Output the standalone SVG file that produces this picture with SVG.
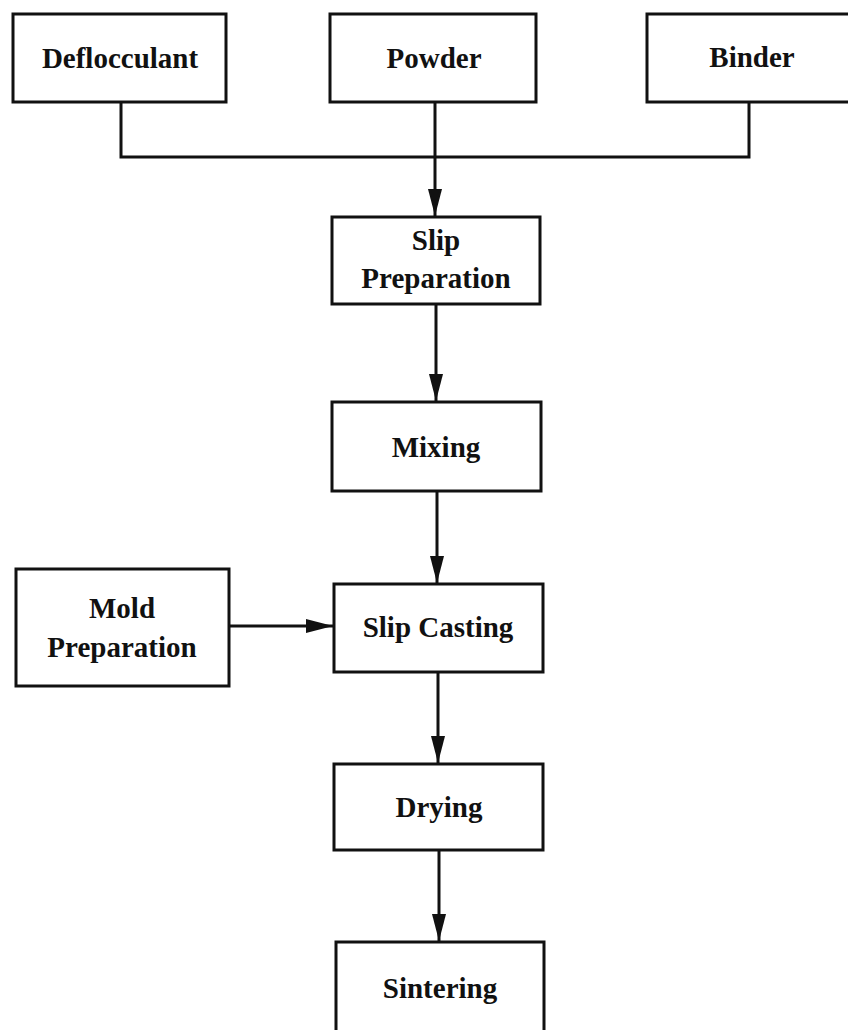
<svg xmlns="http://www.w3.org/2000/svg" width="848" height="1030" viewBox="0 0 848 1030">
<style>
.box{fill:#fff;stroke:#111;stroke-width:3}
.lbl{font-family:"Liberation Serif","Times New Roman",serif;font-weight:bold;font-size:29px;fill:#111;text-anchor:middle}
.con{fill:none;stroke:#111;stroke-width:3}
</style>
<defs>
<marker id="arr" markerUnits="userSpaceOnUse" markerWidth="28" markerHeight="16" refX="27" refY="7" orient="auto">
<path d="M0,0 L27,7 L0,14 z" fill="#111"/>
</marker>
</defs>
<rect width="848" height="1030" fill="#fff"/>
<g id="connectors">
<polyline class="con" points="121,102 121,157 749,157 749,102"/>
<line class="con" x1="435" y1="102" x2="435" y2="216" marker-end="url(#arr)"/>
<line class="con" x1="436" y1="304" x2="436" y2="401" marker-end="url(#arr)"/>
<line class="con" x1="437" y1="491" x2="437" y2="583" marker-end="url(#arr)"/>
<line class="con" x1="229" y1="626" x2="333" y2="626" marker-end="url(#arr)"/>
<line class="con" x1="438" y1="672" x2="438" y2="763" marker-end="url(#arr)"/>
<line class="con" x1="439" y1="850" x2="439" y2="941" marker-end="url(#arr)"/>
</g>
<g id="deflocculant">
<rect class="box" x="13" y="14" width="213" height="88"/>
<text class="lbl" x="120" y="68">Deflocculant</text>
</g>
<g id="powder">
<rect class="box" x="330" y="14" width="206" height="88"/>
<text class="lbl" x="434" y="68">Powder</text>
</g>
<g id="binder">
<rect class="box" x="647" y="14" width="210" height="88"/>
<text class="lbl" x="752" y="67">Binder</text>
</g>
<g id="slip-preparation">
<rect class="box" x="332" y="217" width="208" height="87"/>
<text class="lbl" x="436" y="250">Slip</text>
<text class="lbl" x="436" y="288">Preparation</text>
</g>
<g id="mixing">
<rect class="box" x="332" y="402" width="209" height="89"/>
<text class="lbl" x="436" y="457">Mixing</text>
</g>
<g id="mold-preparation">
<rect class="box" x="16" y="569" width="213" height="117"/>
<text class="lbl" x="122" y="618">Mold</text>
<text class="lbl" x="122" y="657">Preparation</text>
</g>
<g id="slip-casting">
<rect class="box" x="334" y="584" width="209" height="88"/>
<text class="lbl" x="438" y="637">Slip Casting</text>
</g>
<g id="drying">
<rect class="box" x="334" y="764" width="209" height="86"/>
<text class="lbl" x="439" y="817">Drying</text>
</g>
<g id="sintering">
<rect class="box" x="336" y="942" width="208" height="100"/>
<text class="lbl" x="440" y="998">Sintering</text>
</g>
</svg>
